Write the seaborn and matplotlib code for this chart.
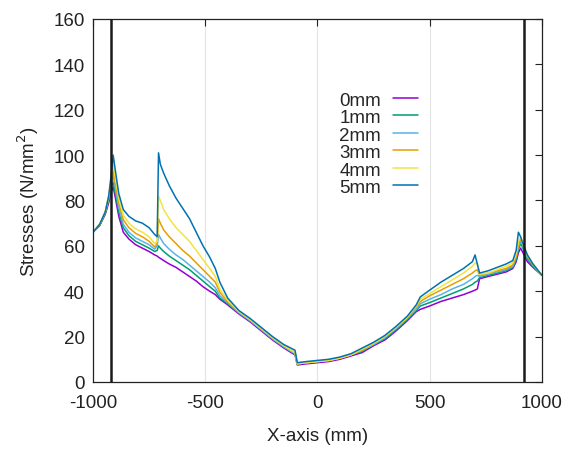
import numpy as np
import pandas as pd
import matplotlib
matplotlib.use("Agg")
import matplotlib.pyplot as plt
import seaborn as sns

# Positions along the member (mm)
x_mm = [-1000, -970, -945, -930, -918, -910, -900, -885, -865, -840,
        -810, -780, -750, -725, -714, -708, -700, -685, -660, -630,
        -600, -570, -540, -510, -480, -455, -435, -400, -350, -300,
        -250, -200, -150, -110, -100, -90, -50, 0, 50, 100,
        150, 200, 250, 300, 350, 400, 440, 458, 500, 550,
        600, 650, 690, 702, 712, 722, 760, 800, 840, 870,
        885, 895, 905, 915, 935, 960, 1000]

# Stress profiles (N/mm^2) for each offset
s_0mm = [66, 69, 74, 79, 84, 86, 81, 73, 66, 63,
         60.5, 59, 57.5, 56, 55.5, 55, 54.5, 53.5, 52, 50.5,
         48.5, 46.5, 44.5, 42, 40, 38.5, 36.5, 34, 30, 26.5,
         22.5, 18.5, 15, 12.5, 12, 7.5, 8, 8.5, 9, 10,
         11.5, 13, 16, 18.5, 22.5, 27, 31, 32, 33.5, 35.5,
         37, 38.5, 40, 40.5, 41, 45.5, 46.5, 47.5, 48.5, 50,
         53, 57, 59, 57, 53, 50.5, 47]
s_1mm = [66, 69, 74.5, 80, 86, 88, 83, 75, 68, 64.5,
         62, 60.5, 59, 57.5, 58, 60, 59, 57.5, 55.5, 53.5,
         51.5, 49.5, 47, 44.5, 42, 40, 37, 34.5, 30.5, 27,
         23, 19, 15.5, 13, 12.5, 8, 8.5, 9, 9.5, 10.5,
         12, 13.5, 16.5, 19, 23, 27.5, 31.5, 33.5, 35, 37,
         39, 41, 43, 44, 44.5, 46, 47, 48, 49, 50.5,
         54, 58.5, 61, 59, 54, 51, 47]
s_2mm = [66, 69.5, 75, 81, 88, 91, 85, 77, 69.5, 66,
         63.5, 62, 60.5, 58.5, 60, 65, 63.5, 61, 58.5, 56,
         54, 51.5, 49, 46.5, 44, 41.5, 38, 35, 30.5, 27,
         23, 19, 15.5, 13, 12.5, 8, 8.5, 9, 9.5, 10.5,
         12, 14, 16.5, 19.5, 23.5, 28, 32, 34.5, 36.5, 38.5,
         41, 43, 45.5, 46.5, 47, 46.5, 47.5, 48.5, 49.5, 51,
         55, 59.5, 62, 60, 55, 51.5, 47]
s_3mm = [66, 69.5, 75, 81.5, 89, 93, 87, 79, 71.5, 68,
         65.5, 64, 62, 59.5, 61, 72, 70, 67, 64, 61,
         58, 55.5, 52.5, 49.5, 46.5, 44, 39.5, 35.5, 31, 27.5,
         23.5, 19.5, 16, 13.5, 13, 8, 8.5, 9, 9.5, 10.5,
         12, 14, 17, 20, 24, 28.5, 33, 35.5, 38, 40.5,
         43, 45.5, 48, 49, 49.5, 47, 48, 49, 50, 51.5,
         55.5, 60.5, 63, 60.5, 55.5, 51.5, 47]
s_4mm = [66, 69.5, 75, 82, 90, 96, 90, 81, 73.5, 70,
         67.5, 66, 64, 61, 62, 82, 80, 76, 72, 68,
         65, 62, 58, 54, 50, 46.5, 41, 36, 31, 27.5,
         23.5, 19.5, 16, 13.5, 13, 8, 8.5, 9, 9.5, 10.5,
         12, 14.5, 17, 20, 24, 28.5, 33.5, 36.5, 39, 42,
         45, 48, 51, 52.5, 52, 47.5, 48, 49.5, 51, 52.5,
         56.5, 62, 64, 61, 56, 52, 47]
s_5mm = [66, 69.5, 75, 82, 92, 100, 93, 83, 76, 73,
         71, 70, 68, 65, 64, 101, 96, 92, 86.5, 81,
         76.5, 72, 66, 60, 55, 50, 44, 37, 31.5, 28,
         24, 20, 16.5, 14.5, 14, 8.5, 9, 9.5, 10, 11,
         12.5, 15, 17.5, 20.5, 24.5, 29, 34, 37.5, 40.5, 44,
         47, 50, 53, 56, 52, 48, 49, 50.5, 52, 53.5,
         58, 66, 64, 61, 56, 52, 47]

labels = ["0mm", "1mm", "2mm", "3mm", "4mm", "5mm"]
series = [s_0mm, s_1mm, s_2mm, s_3mm, s_4mm, s_5mm]
colors = ["#9400d3", "#009e73", "#56b4e9", "#e69f00", "#f0e442", "#0072b2"]
support_x = [-920, 920]

frames = []
for lab, vals in zip(labels, series):
    assert len(vals) == len(x_mm)
    frames.append(pd.DataFrame({"x": x_mm, "stress": vals, "case": lab}))
df = pd.concat(frames, ignore_index=True)

sns.set_theme(style="white")
plt.rcParams["font.family"] = ["Liberation Sans", "DejaVu Sans"]
plt.rcParams["axes.unicode_minus"] = False

fig = plt.figure(figsize=(5.69, 4.52), dpi=100)
ax = fig.add_axes([0.1634, 0.1527, 0.7891, 0.8031])

for xv in [-500, 0, 500]:
    ax.axvline(xv, color="#e4e4e4", lw=0.8, zorder=0)

sns.lineplot(data=df, x="x", y="stress", hue="case", hue_order=labels,
             palette=colors, lw=1.1, ax=ax, legend=True, sort=False,
             estimator=None)

for xv in support_x:
    ax.axvline(xv, color="#1a1a1a", lw=1.8, zorder=5)

ax.set_xlim(-1000, 1000)
ax.set_ylim(0, 160)
ax.set_xticks([-1000, -500, 0, 500, 1000])
ax.set_yticks(range(0, 161, 20))
ax.tick_params(direction="in", length=5, width=0.8, top=True, right=True,
               labelsize=13.5, colors="#222222", pad=6)
ax.tick_params(axis="x", pad=9)
for sp in ax.spines.values():
    sp.set_color("#222222")
    sp.set_linewidth(0.9)

ax.set_xlabel("X-axis (mm)", fontsize=13.5, color="#222222", labelpad=11)
ax.set_ylabel("Stresses (N/mm$^2$)", fontsize=13.5, color="#222222", labelpad=9)

handles, labs = ax.get_legend_handles_labels()
ax.legend(handles, labs, loc="upper left", bbox_to_anchor=(0.511, 0.847),
          frameon=False, markerfirst=False, fontsize=13.5, handlelength=1.3,
          labelspacing=0.02, handletextpad=0.65)

fig.savefig("out.png", dpi=100)
